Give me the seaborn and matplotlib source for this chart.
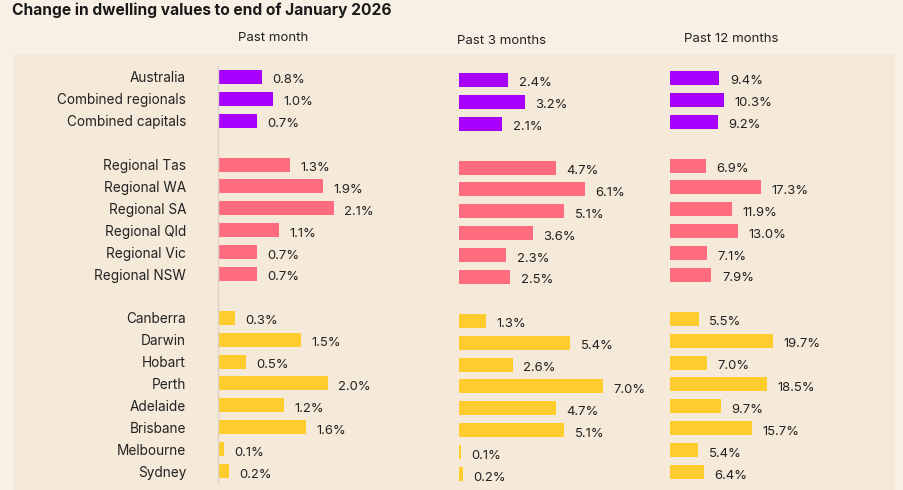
import pandas as pd
import numpy as np
import matplotlib.pyplot as plt
import matplotlib.patches as mpatches
import seaborn as sns

# Values (% change in dwelling values)
aggregates = ['Australia', 'Combined regionals', 'Combined capitals']
regionals = ['Regional Tas', 'Regional WA', 'Regional SA', 'Regional Qld', 'Regional Vic', 'Regional NSW']
capitals = ['Canberra', 'Darwin', 'Hobart', 'Perth', 'Adelaide', 'Brisbane', 'Melbourne', 'Sydney']

past_month = [0.8, 1.0, 0.7,
              1.3, 1.9, 2.1, 1.1, 0.7, 0.7,
              0.3, 1.5, 0.5, 2.0, 1.2, 1.6, 0.1, 0.2]
past_3_months = [2.4, 3.2, 2.1,
                 4.7, 6.1, 5.1, 3.6, 2.3, 2.5,
                 1.3, 5.4, 2.6, 7.0, 4.7, 5.1, 0.1, 0.2]
past_12_months = [9.4, 10.3, 9.2,
                  6.9, 17.3, 11.9, 13.0, 7.1, 7.9,
                  5.5, 19.7, 7.0, 18.5, 9.7, 15.7, 5.4, 6.4]

regions = aggregates + regionals + capitals
groups = ['aggregate'] * len(aggregates) + ['regional'] * len(regionals) + ['capital'] * len(capitals)
df = pd.DataFrame({'region': regions, 'group': groups,
                   'Past month': past_month,
                   'Past 3 months': past_3_months,
                   'Past 12 months': past_12_months})

# blank slots between the three groups
order = aggregates + [' '] + regionals + ['  '] + capitals
palette = {'aggregate': '#A800FF', 'regional': '#FF6B7F', 'capital': '#FFCC2E'}

sns.set_theme(style='white')
plt.rcParams['font.family'] = ['Inter', 'DejaVu Sans']

W, H = 904, 490
fig = plt.figure(figsize=(W / 100, H / 100), dpi=100)
fig.patch.set_facecolor('#F8F0E4')

# inner beige panel, kept under the axes
fig.patches.append(mpatches.Rectangle((13 / W, 0), (895 - 13) / W, 1 - 54 / H,
                                      transform=fig.transFigure, facecolor='#F5E9D9',
                                      edgecolor='none', zorder=-5))

fig.text(12 / W, 1 - 10 / H, 'Change in dwelling values to end of January 2026',
         fontsize=11.2, fontweight='bold', color='#1a1a1a', va='center', ha='left')

# (column, left px, right px, xmax, vertical shift px, header x px)
panels = [('Past month', 218, 448, 4.18, 0, 273),
          ('Past 3 months', 459, 660, 9.76, 3, 502),
          ('Past 12 months', 670, 890, 41.9, 1, 731)]

top_px, bot_px = 66, 482
for i, (col, x0, x1, xmax, dy, hx) in enumerate(panels):
    ax = fig.add_axes([x0 / W, 1 - (bot_px + dy) / H, (x1 - x0) / W, (bot_px - top_px) / H])
    ax.set_facecolor('none')
    sns.barplot(data=df, x=col, y='region', order=order, hue='group', palette=palette,
                dodge=False, legend=False, width=0.64, saturation=1, linewidth=0, ax=ax)
    for cont in ax.containers:
        labels = ax.bar_label(cont, fmt='%.1f%%', padding=7.5, fontsize=9.4, color='#222222')
        for t in labels:
            t.xyann = (7.5, -2.5)  # nudge down so the text sits on the bar centre
    ax.set_xlim(0, xmax)
    ax.set_xlabel('')
    ax.set_ylabel('')
    ax.set_xticks([])
    sns.despine(ax=ax, top=True, right=True, bottom=True, left=(i != 0))
    if i == 0:
        ax.spines['left'].set_color('#DCD3C6')
        ax.spines['left'].set_linewidth(1)
        ax.tick_params(axis='y', length=0, pad=23, labelsize=9.8, labelcolor='#222222')
    else:
        ax.set_yticks([])
    fig.text(hx / W, 1 - (38 + dy) / H, col, fontsize=9.5, color='#222222',
             ha='center', va='center')

fig.savefig('out.png', dpi=100, facecolor=fig.get_facecolor())
